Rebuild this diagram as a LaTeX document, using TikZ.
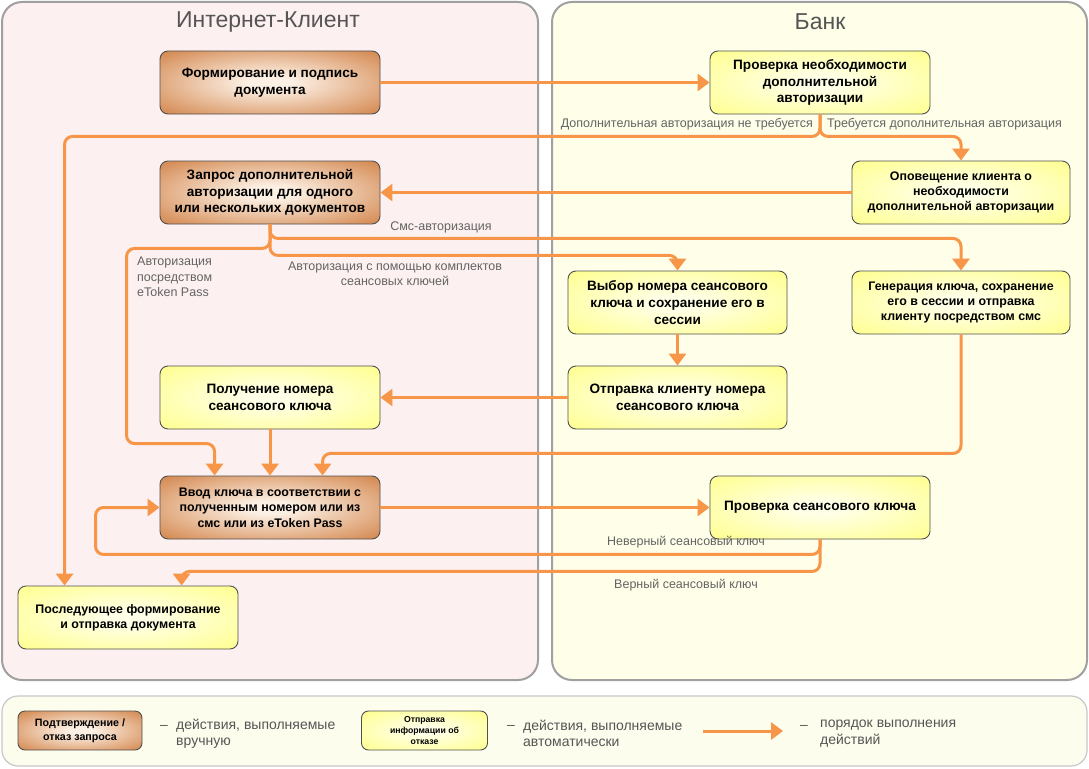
\documentclass[tikz,border=0pt]{standalone}
\usepackage{fontspec}
\setmainfont{Liberation Sans}
\usetikzlibrary{arrows.meta,calc}
\definecolor{arrc}{RGB}{247,150,72}
\definecolor{orcen}{RGB}{252,240,228}
\definecolor{oredge}{RGB}{214,142,88}
\definecolor{yecen}{RGB}{255,255,232}
\definecolor{yeedge}{RGB}{255,255,150}
\definecolor{boxborder}{RGB}{80,80,80}
\definecolor{panelborder}{RGB}{160,160,160}
\definecolor{clientfill}{RGB}{253,240,240}
\definecolor{bankfill}{RGB}{254,254,233}
\definecolor{legfill}{RGB}{253,253,238}
\definecolor{legborder}{RGB}{200,200,200}
\definecolor{lblc}{RGB}{100,100,100}
\definecolor{titlec}{RGB}{85,85,85}
\pgfdeclareradialshading{orshade}{\pgfpoint{0bp}{0bp}}{color(0bp)=(orcen);color(5bp)=(orcen);color(33bp)=(oredge);color(50bp)=(oredge)}
\pgfdeclareradialshading{yeshade}{\pgfpoint{0bp}{0bp}}{color(0bp)=(yecen);color(5bp)=(yecen);color(33bp)=(yeedge);color(50bp)=(yeedge)}
\tikzset{
  box/.style={draw=boxborder, line width=0.9pt, rounded corners=8pt, minimum width=220pt, minimum height=63pt, align=center, inner sep=0pt},
  manual/.style={box, shading=orshade},
  autobox/.style={box, shading=yeshade},
  big/.style={font=\fontsize{13.6}{16.8}\selectfont\bfseries},
  small/.style={font=\fontsize{12.4}{15.3}\selectfont\bfseries},
  arr/.style={draw=arrc, line width=3pt, rounded corners=8pt, -{Triangle[width=17pt,length=12pt]}},
  lbl/.style={text=lblc, font=\fontsize{12.5}{15.5}\selectfont, inner sep=0pt, align=center},
  legtxt/.style={text=titlec, font=\fontsize{14}{16.5}\selectfont, inner sep=0pt, align=left, anchor=west},
  legdash/.style={text=titlec, font=\fontsize{14}{16.5}\selectfont, inner sep=0pt, anchor=base west},
  panel/.style={draw=panelborder, line width=2pt, rounded corners=20pt},
  ptitle/.style={text=titlec, font=\fontsize{23}{27}\selectfont, inner sep=0pt}
}
\begin{document}
\begin{tikzpicture}[x=1pt,y=-1pt]
\useasboundingbox[fill=white] (0,0) rectangle (1089,768);
% panels
\draw[panel, fill=clientfill] (2,2) rectangle (538,680);
\draw[panel, fill=bankfill] (552,2) rectangle (1087,680);
\draw[draw=legborder, line width=1.2pt, fill=legfill, rounded corners=16pt] (2,696) rectangle (1087,766);
\node[ptitle] (tc) at (268,22) {Интернет-Клиент};
\node[ptitle] (tb) at (820,22) {Банк};
% nodes
\node[manual, big] (form) at (270,82.5) {Формирование и подпись\\документа};
\node[manual, big] (zap) at (270,192.5) {Запрос дополнительной\\авторизации для одного\\или нескольких документов};
\node[autobox, big] (chk) at (820,82.5) {Проверка необходимости\\дополнительной\\авторизации};
\node[autobox, small, minimum width=218pt] (opov) at (961,192.5) {Оповещение клиента о\\необходимости\\дополнительной авторизации};
\node[autobox, big, minimum width=219pt] (vybor) at (677.5,302.5) {Выбор номера сеансового\\ключа и сохранение его в\\сессии};
\node[autobox, small, minimum width=218pt] (gen) at (961,302.5) {Генерация ключа, сохранение\\его в сессии и отправка\\клиенту посредством смс};
\node[autobox, big] (pol) at (270,397.5) {Получение номера\\сеансового ключа};
\node[autobox, big, minimum width=219pt] (otpr) at (677.5,397.5) {Отправка клиенту номера\\сеансового ключа};
\node[manual, small] (vvod) at (270,507.5) {Ввод ключа в соответствии с\\полученным номером или из\\смс или из eToken Pass};
\node[autobox, big] (ps) at (820,507.5) {Проверка сеансового ключа};
\node[autobox, small] (post) at (128,617.5) {Последующее формирование\\и отправка документа};
% connectors
\draw[arr] (form.east) -- (chk.west);
\draw[arr] (chk.south) -- ++(0,22) -| ($(post.north west)+(47,0)$);
\draw[arr] (chk.south) -- ++(0,22) -| (opov.north);
\draw[arr] (opov.west) -- (zap.east);
\draw[arr] (zap.south) -- ++(0,14) -| (gen.north);
\draw[arr] (zap.south) -- ++(0,31) -| (vybor.north);
\draw[arr] (zap.south) -- ++(0,24) -| ($(vvod.north west)+(-33,-32)$) -| ($(vvod.north west)+(55,0)$);
\draw[arr] (vybor.south) -- (otpr.north);
\draw[arr] (otpr.west) -- (pol.east);
\draw[arr] (pol.south) -- (vvod.north);
\draw[arr] (gen.south) -- ++(0,119) -| ($(vvod.north west)+(163,0)$);
\draw[arr] (vvod.east) -- (ps.west);
\draw[arr] (ps.south) -- ++(0,15) -| ($(vvod.west)+(-64,0)$) -- (vvod.west);
\draw[arr] (ps.south) -- ++(0,32) -| ($(post.north west)+(164,0)$);
% labels
\node[lbl, anchor=east] (l1) at (813,124) {Дополнительная авторизация не требуется};
\node[lbl, anchor=west] (l2) at (827,124) {Требуется дополнительная авторизация};
\node[lbl] (l3) at (441,227) {Смс-авторизация};
\node[lbl] (l4) at (395,274) {Авторизация с помощью комплектов\\сеансовых ключей};
\node[lbl, align=left, anchor=west] (l5) at (137,277) {Авторизация\\посредством\\eToken Pass};
\node[lbl] (l6) at (686,542) {Неверный сеансовый ключ};
\node[lbl] (l7) at (686,585) {Верный сеансовый ключ};
% legend
\node[manual, minimum width=124pt, minimum height=39pt, rounded corners=7pt, font=\fontsize{10.7}{14}\selectfont\bfseries] (lm) at (80,730.5) {Подтверждение /\\отказ запроса};
\node[legdash] (ld1) at (160,729.5) {–};
\node[legtxt] (lt1) at (176,733.5) {действия, выполняемые\\вручную};
\node[autobox, minimum width=126pt, minimum height=39pt, rounded corners=7pt, font=\fontsize{8.7}{11.3}\selectfont\bfseries] (la) at (424.5,730.5) {Отправка\\информации об\\отказе};
\node[legdash] (ld2) at (507,729.5) {–};
\node[legtxt] (lt2) at (523,733.5) {действия, выполняемые\\автоматически};
\coordinate (ga) at (703,731);
\coordinate (gb) at (783,731);
\draw[arr] (ga) -- (gb);
\node[legdash] (ld3) at (800,729.5) {–};
\node[legtxt] (lt3) at (820,733.5) {порядок выполнения\\действий};
\end{tikzpicture}
\end{document}
